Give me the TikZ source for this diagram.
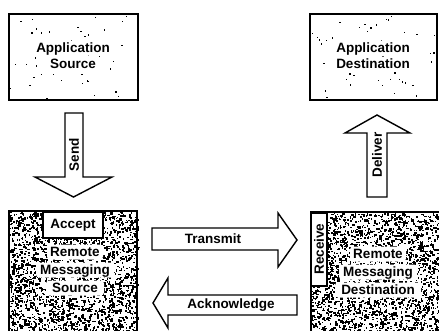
\documentclass[tikz,border=0pt]{standalone}
\usepackage{fontspec}
\setmainfont{Liberation Sans}
\newcommand\speckle[6]{% x0, y0, width, height, count, max size
  \foreach \i in {1,...,#5}{
    \pgfmathsetmacro{\sx}{#1+#3*rnd}
    \pgfmathsetmacro{\sy}{#2+#4*rnd}
    \pgfmathsetmacro{\sw}{0.7+#6*rnd}
    \pgfmathsetmacro{\sh}{0.7+#6*rnd}
    \fill (\sx,\sy) rectangle ++(\sw,\sh);
  }}
\newcommand\clearline[3]{% centre x, centre y, width
  \fill[white,rounded corners=3pt] (#1-#3/2,#2-7.5) rectangle (#1+#3/2,#2+7.5);}
\begin{document}
\begin{tikzpicture}[x=1pt,y=-1pt,
  boxline/.style={draw=black,line width=2pt},
  arrowshape/.style={draw=black,fill=white,line width=1.4pt,line join=miter},
  lbl/.style={font=\bfseries\fontsize{13.5}{18}\selectfont,align=center,inner sep=0pt},
  toplbl/.style={lbl,font=\bfseries\fontsize{13.5}{16}\selectfont}]
\clip (0,0) rectangle (439,330);
\fill[white] (0,0) rectangle (439,330);
\pgfmathsetseed{11}

% textured fills
\speckle{10}{15}{127}{84}{45}{1.3}
\speckle{311}{15}{126}{84}{45}{1.3}
\speckle{9}{212}{128}{120}{2300}{2.0}
\speckle{311}{213}{130}{120}{2300}{2.0}

% lighter areas behind the labels
\clearline{73}{48}{78}
\clearline{73}{64}{52}
\clearline{373}{48}{78}
\clearline{373}{64}{82}
\clearline{75}{252}{56}
\clearline{75}{270}{78}
\clearline{75}{288}{58}
\clearline{378}{254}{56}
\clearline{378}{272}{78}
\clearline{378}{290}{86}

% application boxes
\draw[boxline] (9,14) rectangle (138,100);
\draw[boxline] (310,14) rectangle (437,100);
\node[toplbl] (appsrc) at (73,56) {Application\\Source};
\node[toplbl] (appdst) at (373,56) {Application\\Destination};

% remote messaging boxes
\draw[boxline] (9,211) rectangle (137,340);
\draw[boxline] (311,212) rectangle (445,340);
\node[boxline,fill=white,minimum width=60pt,minimum height=26pt,inner sep=0pt,
      font=\bfseries\fontsize{13.5}{18}\selectfont] (accept) at (73,225) {Accept};
\node[boxline,fill=white,minimum width=73pt,minimum height=16pt,inner sep=0pt,
      rotate=90,font=\bfseries\fontsize{13.5}{18}\selectfont] (receive) at (319,249) {Receive};
\node[lbl] (rms) at (75,270) {Remote\\Messaging\\Source};
\node[lbl] (rmd) at (378,272) {Remote\\Messaging\\Destination};

% block arrows
\draw[arrowshape] (65,113) -- (83,113) -- (83,177) -- (112,177) -- (73.5,197)
  -- (35,177) -- (65,177) -- cycle;
\node[lbl,rotate=90] (send) at (74,155) {Send};

\draw[arrowshape] (367,197) -- (387,197) -- (387,133) -- (410,133) -- (377,115)
  -- (345,133) -- (367,133) -- cycle;
\node[lbl,rotate=90] (deliver) at (377,155) {Deliver};

\draw[arrowshape] (152,228) -- (278,228) -- (278,213) -- (297,240) -- (278,267)
  -- (278,250) -- (152,250) -- cycle;
\node[lbl] (transmit) at (213,239) {Transmit};

\draw[arrowshape] (297,295) -- (168,295) -- (168,278) -- (153,303) -- (168,328)
  -- (168,315) -- (297,315) -- cycle;
\node[lbl] (ack) at (231,305) {Acknowledge};
\end{tikzpicture}
\end{document}
